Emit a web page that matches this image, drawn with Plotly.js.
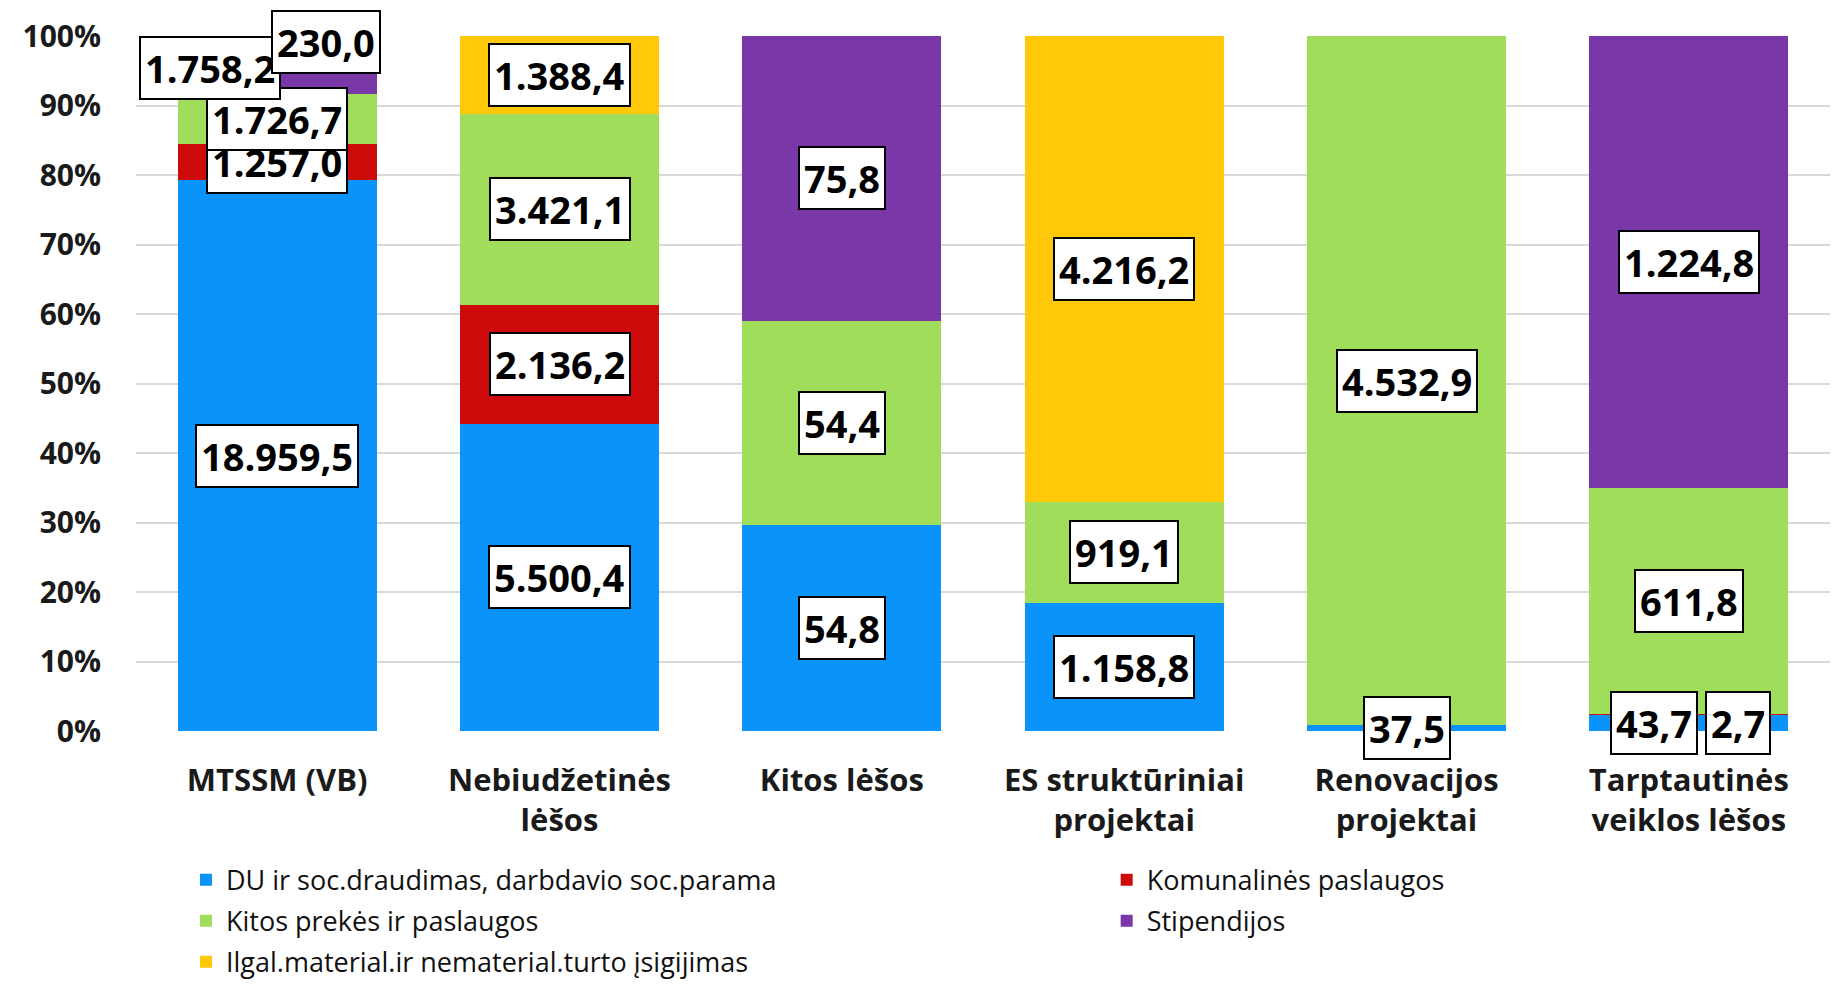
<!DOCTYPE html>
<html>
<head>
<meta charset="utf-8">
<script src="https://cdn.plot.ly/plotly-3.0.1.min.js"></script>
<style>html,body{margin:0;padding:0;background:#fff;}#chart{width:1835px;height:988px;}</style>
</head>
<body>
<div id="chart"></div>
<script>
const categories = ["MTSSM (VB)", "Nebiudžetinės<br>lėšos", "Kitos lėšos", "ES struktūriniai<br>projektai", "Renovacijos<br>projektai", "Tarptautinės<br>veiklos lėšos"];
const seriesNames = ["DU ir soc.draudimas, darbdavio soc.parama", "Komunalinės paslaugos", "Kitos prekės ir paslaugos", "Stipendijos", "Ilgal.material.ir nematerial.turto įsigijimas"];
const du          = [18959.5, 5500.4, 54.8, 1158.8, 37.5, 43.7];
const komunalines = [1257.0, 2136.2, 0, 0, 0, 2.7];
const kitosPrekes = [1726.7, 3421.1, 54.4, 919.1, 4532.9, 611.8];
const stipendijos = [1758.2, 0, 75.8, 0, 0, 1224.8];
const ilgalTurtas = [230.0, 1388.4, 0, 4216.2, 0, 0];
const colors = ["#0a93fb", "#cc0a0a", "#a0dd5b", "#7a37a8", "#ffc90a"];
// which legend box each series is listed in (left column / right column)
const legendOf = ["legend", "legend2", "legend", "legend2", "legend"];

const series = [du, komunalines, kitosPrekes, stipendijos, ilgalTurtas];

const traces = series.map((vals, i) => ({
  type: "bar",
  name: seriesNames[i],
  x: categories,
  y: vals,
  legend: legendOf[i],
  legendgroup: "g" + i,
  marker: {color: colors[i], line: {width: 0}},
  hoverinfo: "skip"
}));

function fmt(v) {
  const s = v.toFixed(1).split(".");
  const intPart = s[0].replace(/\B(?=(\d{3})+(?!\d))/g, ".");
  return intPart + "," + s[1];
}

// label offsets (pixels) for labels moved to avoid overlap
const shifts = {
  "0-3": [-67, 0], "0-4": [49, 3],
  "5-0": [-35, 0], "5-1": [49, 9]
};

const totals = categories.map((c, j) => series.reduce((a, s) => a + s[j], 0));
const annotations = [];
categories.forEach((c, j) => {
  let cum = 0;
  series.forEach((s, i) => {
    const v = s[j];
    if (v > 0) {
      const mid = (cum + v / 2) / totals[j] * 100;
      const sh = shifts[j + "-" + i] || [0, 0];
      annotations.push({
        x: c, y: mid, xref: "x", yref: "y",
        text: fmt(v), showarrow: false,
        xshift: sh[0], yshift: -sh[1],
        font: {family: "Open Sans, sans-serif", size: 38, color: "#000", weight: 700},
        bgcolor: "#ffffff", bordercolor: "#000000", borderwidth: 2, borderpad: 4
      });
    }
    cum += v;
  });
});

const legendFont = {family: "Open Sans, sans-serif", size: 27, color: "#111"};
const layout = {
  width: 1835, height: 988,
  paper_bgcolor: "#ffffff", plot_bgcolor: "#ffffff",
  margin: {l: 136, r: 5, t: 36, b: 257, autoexpand: false},
  barmode: "stack", barnorm: "percent", bargap: 0.295,
  showlegend: true,
  xaxis: {
    type: "category",
    tickfont: {family: "Open Sans, sans-serif", size: 31, color: "#1a1a1a", weight: 700},
    showgrid: false, zeroline: false, showline: false, ticks: "", ticklabelstandoff: 28,
    automargin: false
  },
  yaxis: {
    range: [0, 100], dtick: 10, ticksuffix: "%",
    tickfont: {family: "Open Sans, sans-serif", size: 30, color: "#1a1a1a", weight: 700},
    gridcolor: "#d9d9d9", gridwidth: 2, zeroline: false, showline: false,
    ticklabelstandoff: 34, automargin: false
  },
  legend: {
    orientation: "v", x: 0.0295, y: 0.134, xanchor: "left", yanchor: "top",
    xref: "paper", yref: "container",
    traceorder: "grouped", tracegroupgap: 3,
    font: legendFont, itemwidth: 30, bgcolor: "rgba(0,0,0,0)"
  },
  legend2: {
    orientation: "v", x: 0.573, y: 0.134, xanchor: "left", yanchor: "top",
    xref: "paper", yref: "container",
    traceorder: "grouped", tracegroupgap: 3,
    font: legendFont, itemwidth: 30, bgcolor: "rgba(0,0,0,0)"
  },
  annotations: annotations
};

Plotly.newPlot("chart", traces, layout, {displayModeBar: false, staticPlot: true});
</script>
</body>
</html>
